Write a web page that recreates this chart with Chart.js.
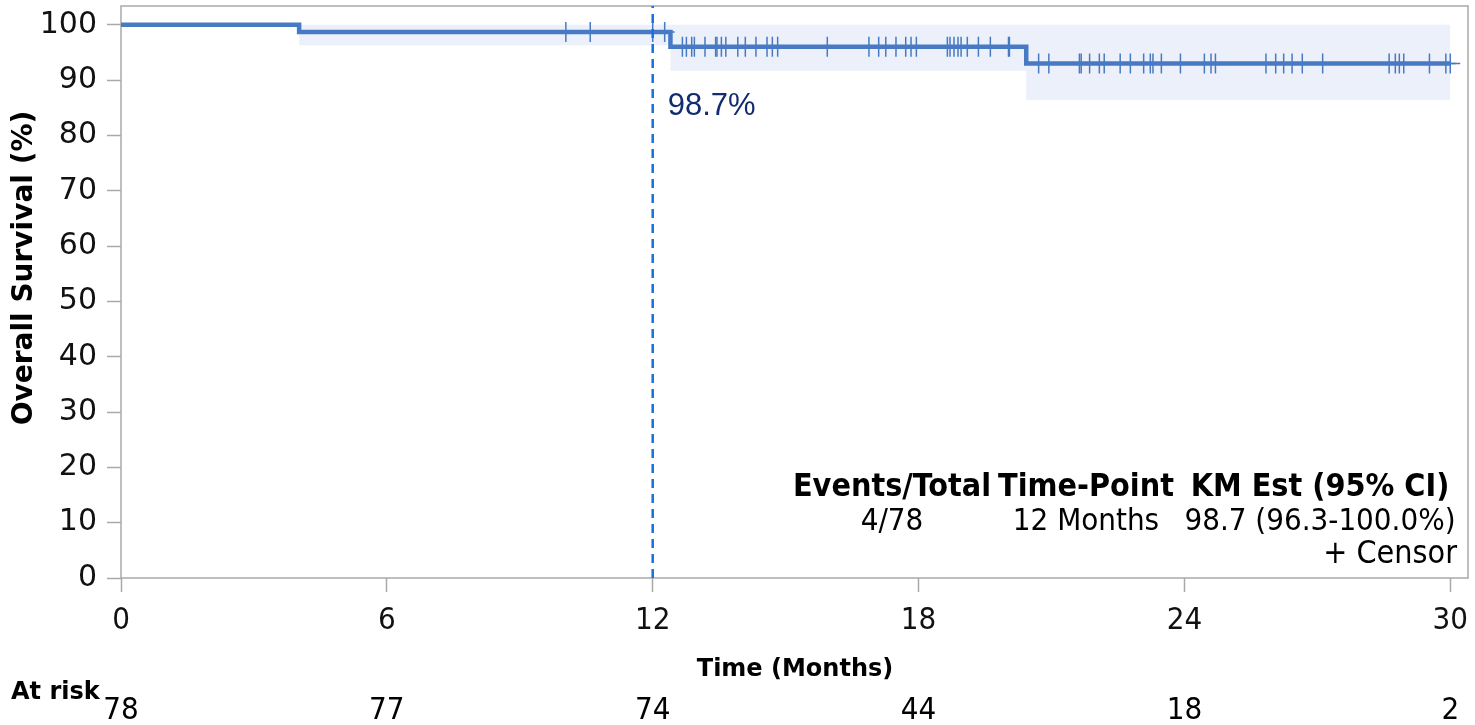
<!DOCTYPE html>
<html>
<head>
<meta charset="utf-8">
<script src="https://cdn.jsdelivr.net/npm/chart.js@4/dist/chart.umd.min.js"></script>
<style>
  html, body { margin: 0; padding: 0; background: #fff; }
  #wrap { width: 1475px; height: 725px; }
</style>
</head>
<body>
<div id="wrap"><canvas id="km" width="1475" height="725"></canvas></div>
<script>
// Kaplan-Meier step curve: event times (months) and survival (%) after each step
const stepTimes = [0, 4.02, 12.4, 20.43];
const stepSurvival = [100, 98.72, 96.03, 93.0];
const curveEnd = 30.0;

// 95% CI lower bound for each step interval (upper bound is 100%)
const ciTimes = [4.02, 12.4, 20.43, 30.0];
const ciLower = [96.3, 91.7, 86.4, 86.4];

// Censored observation times (months)
const censorTimes = [
  10.04, 10.59, 12.0, 12.27,
  12.67, 12.76, 12.88, 12.94, 13.18, 13.42, 13.45, 13.55, 13.65, 13.92, 14.09,
  14.33, 14.58, 14.70, 14.82, 15.94, 16.88, 17.10, 17.26, 17.49, 17.71, 17.83,
  17.95, 18.65, 18.71, 18.80, 18.89, 18.96, 19.10, 19.35, 19.62, 20.03, 20.05,
  20.71, 20.94, 21.63, 21.67, 21.86, 22.08, 22.19, 22.55, 22.78, 23.08, 23.23,
  23.29, 23.48, 23.91, 24.45, 24.60, 24.70, 25.84, 26.06, 26.24, 26.43, 26.66,
  27.12, 28.62, 28.76, 28.85, 28.95, 29.53, 29.90, 30.0
];

// Axis ticks and number-at-risk table
const xTicks = [0, 6, 12, 18, 24, 30];
const yTicks = [0, 10, 20, 30, 40, 50, 60, 70, 80, 90, 100];
const atRisk = [78, 77, 74, 44, 18, 2];

// Landmark estimate
const landmarkTime = 12;
const landmarkLabel = '98.7%';
const tableHeader = ['Events/Total', 'Time-Point', 'KM Est (95% CI)'];
const tableRow = ['4/78', '12 Months', '98.7 (96.3-100.0%)'];

const X_MAX = 30.4;
const Y_MAX = 103.4;

function survivalAt(t) {
  let s = stepSurvival[0];
  for (let i = 0; i < stepTimes.length; i++) {
    if (stepTimes[i] <= t) s = stepSurvival[i];
  }
  return s;
}

const curvePoints = stepTimes.map((t, i) => ({ x: t, y: stepSurvival[i] }));
curvePoints.push({ x: curveEnd, y: stepSurvival[stepSurvival.length - 1] });

const ciPoints = ciTimes.map((t, i) => ({ x: t, y: ciLower[i] }));
const censorPoints = censorTimes.map(t => ({ x: t, y: survivalAt(t) }));

const LINE_BLUE = 'rgb(72,122,196)';
const BAND = 'rgb(236,240,250)';
const FRAME = '#a9a9a9';

const overlay = {
  id: 'overlay',
  beforeDatasetsDraw(chart) {
    const { ctx, chartArea: a } = chart;
    ctx.save();
    ctx.strokeStyle = FRAME;
    ctx.lineWidth = 1.5;
    ctx.strokeRect(a.left, a.top, a.right - a.left, a.bottom - a.top);
    ctx.restore();
  },
  afterDraw(chart) {
    const { ctx, scales: { x } } = chart;
    ctx.save();
    ctx.fillStyle = '#000';

    // y axis title
    ctx.save();
    ctx.translate(25, 268);
    ctx.rotate(-Math.PI / 2);
    ctx.font = 'bold 28px "DejaVu Sans"';
    ctx.textAlign = 'center';
    ctx.textBaseline = 'middle';
    ctx.fillText('Overall Survival (%)', 0, 0);
    ctx.restore();

    // x axis title
    ctx.font = 'bold 24px "DejaVu Sans"';
    ctx.textAlign = 'center';
    ctx.textBaseline = 'middle';
    ctx.fillText('Time (Months)', 795, 670);

    // number at risk
    ctx.textAlign = 'left';
    ctx.fillText('At risk', 11, 693);
    ctx.font = '31px "DejaVu Sans Condensed"';
    ctx.textAlign = 'center';
    xTicks.forEach((t, i) => {
      ctx.fillText(String(atRisk[i]), x.getPixelForValue(t), 711);
    });

    // landmark label
    ctx.fillStyle = 'rgb(18,44,112)';
    ctx.font = '31px "Liberation Sans"';
    ctx.textAlign = 'left';
    ctx.fillText(landmarkLabel, x.getPixelForValue(landmarkTime) + 15, 106);

    // estimate table
    const cols = [892, 1086, 1320];
    ctx.fillStyle = '#000';
    ctx.textAlign = 'center';
    ctx.font = 'bold 32px "DejaVu Sans Condensed"';
    tableHeader.forEach((s, i) => ctx.fillText(s, cols[i], 488));
    ctx.font = '31px "DejaVu Sans Condensed"';
    tableRow.forEach((s, i) => ctx.fillText(s, cols[i], 522));
    ctx.textAlign = 'right';
    ctx.font = '32px "DejaVu Sans Condensed"';
    ctx.fillText('+ Censor', 1457, 555);
    ctx.restore();
  }
};

new Chart(document.getElementById('km'), {
  type: 'scatter',
  data: {
    datasets: [
      {
        label: 'CI',
        type: 'line',
        data: ciPoints,
        stepped: true,
        borderWidth: 0,
        borderColor: 'rgba(0,0,0,0)',
        backgroundColor: BAND,
        fill: { value: 100 },
        pointRadius: 0,
        order: 5
      },
      {
        label: 'KM',
        type: 'line',
        data: curvePoints,
        stepped: true,
        borderColor: LINE_BLUE,
        borderWidth: 4.5,
        fill: false,
        pointRadius: 0,
        order: 3
      },
      {
        label: 'Censor',
        data: censorPoints,
        pointStyle: 'cross',
        pointRadius: 10,
        borderColor: LINE_BLUE,
        borderWidth: 1.5,
        backgroundColor: LINE_BLUE,
        order: 2
      },
      {
        label: 'Landmark',
        type: 'line',
        data: [{ x: landmarkTime, y: 0 }, { x: landmarkTime, y: Y_MAX }],
        borderColor: 'rgb(24,112,222)',
        borderWidth: 2.5,
        borderDash: [9, 6],
        pointRadius: 0,
        fill: false,
        order: 1
      }
    ]
  },
  options: {
    responsive: false,
    animation: false,
    devicePixelRatio: 1,
    layout: { autoPadding: false, padding: { top: 6, right: 7, left: 0, bottom: 0 } },
    plugins: { legend: { display: false }, tooltip: { enabled: false } },
    scales: {
      x: {
        type: 'linear',
        min: 0,
        max: X_MAX,
        afterFit(s) { s.height = 147; s.paddingLeft = 0; s.paddingRight = 0; },
        afterBuildTicks(s) { s.ticks = xTicks.map(v => ({ value: v })); },
        border: { display: false },
        grid: { drawOnChartArea: false, drawTicks: true, tickLength: 14, tickColor: FRAME, tickWidth: 1.5 },
        ticks: { color: '#111', font: { family: '"DejaVu Sans Condensed"', size: 31 }, padding: 10, maxRotation: 0 }
      },
      y: {
        type: 'linear',
        min: 0,
        max: Y_MAX,
        afterFit(s) { s.width = 121; s.paddingTop = 0; s.paddingBottom = 0; },
        afterBuildTicks(s) { s.ticks = yTicks.map(v => ({ value: v })); },
        border: { display: false },
        grid: { drawOnChartArea: false, drawTicks: true, tickLength: 14, tickColor: FRAME, tickWidth: 1.5 },
        ticks: { color: '#111', font: { family: '"DejaVu Sans"', size: 30 }, padding: 10 }
      }
    }
  },
  plugins: [overlay]
});
</script>
</body>
</html>
